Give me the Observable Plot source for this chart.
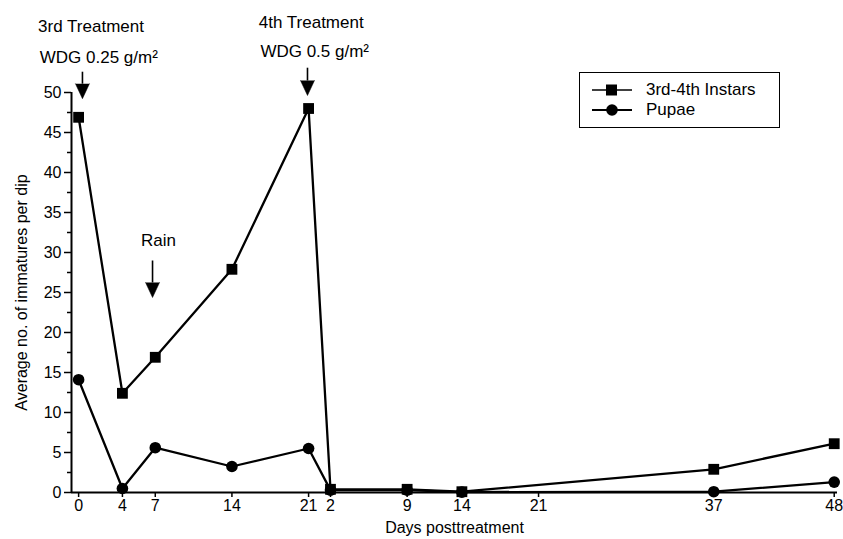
<!DOCTYPE html>
<html><head><meta charset="utf-8">
<script src="https://cdn.jsdelivr.net/npm/d3@7"></script>
<script src="https://cdn.jsdelivr.net/npm/@observablehq/plot@0.6"></script>
<style>
body{margin:0;background:#fff;font-family:"Liberation Sans",Arial,sans-serif;}
#wrap{position:relative;width:843px;height:539px;}
#legend{position:absolute;left:579px;top:72px;width:201px;height:56px;border:1.6px solid #000;background:#fff;box-sizing:border-box;}
#legend .row{position:absolute;left:12px;height:18px;display:flex;align-items:center;font-size:17px;color:#000;}
#legend svg{margin-right:14px;}
</style></head><body><div id="wrap"></div>
<script>
// composite time axis: days after 3rd treatment (0-21), then 21 + days after 4th treatment
const tickPos = [0, 4, 7, 14, 21, 23, 30, 35, 42, 58, 69];
const tickLabels = ["0", "4", "7", "14", "21", "2", "9", "14", "21", "37", "48"];
const instarT = [0, 4, 7, 14, 21, 23, 30, 35, 58, 69];
const instars = [46.9, 12.4, 16.9, 27.9, 48, 0.4, 0.4, 0.1, 2.9, 6.1];
const pupaeT = [0, 4, 7, 14, 21, 23, 30, 35, 58, 69];
const pupae = [14.1, 0.5, 5.6, 3.25, 5.5, 0.3, 0.3, 0.05, 0.1, 1.3];
const seriesNames = ["3rd-4th Instars", "Pupae"];

// annotations
const noteLabels = ["3rd Treatment", "WDG 0.25 g/m²", "4th Treatment", "WDG 0.5 g/m²", "Rain"];
const noteT = [-3.7, -3.55, 16.45, 16.6, 7.3];
const noteV = [58.3, 54.4, 58.8, 55.1, 31.5];
const arrowT = [0.35, 20.9, 6.75];
const arrowTop = [52.6, 53.1, 29];
const arrowBase = [51.1, 51.5, 26.25];

const xMin = -0.65, xMax = 69.3;
const instarRows = instarT.map((t, i) => ({t, v: instars[i], s: seriesNames[0]}));
const pupaeRows = pupaeT.map((t, i) => ({t, v: pupae[i], s: seriesNames[1]}));
const notes = noteLabels.map((label, i) => ({label, t: noteT[i], v: noteV[i]}));
const arrows = arrowT.map((t, i) => ({t, top: arrowTop[i], base: arrowBase[i]}));

const plot = Plot.plot({
  width: 843, height: 539,
  marginLeft: 71, marginRight: 6, marginTop: 92, marginBottom: 47,
  style: {fontFamily: '"Liberation Sans",Arial,sans-serif', fontSize: "16px", color: "#000", background: "#fff", overflow: "visible"},
  x: {domain: [xMin, xMax]},
  y: {domain: [0, 50]},
  marks: [
    Plot.axisY({ticks: d3.range(0, 51, 5), tickSize: 7, tickPadding: 3, strokeWidth: 1.5, fontSize: 16,
      label: "Average no. of immatures per dip", labelAnchor: "center", labelArrow: "none", labelOffset: 56}),
    Plot.axisY({ticks: d3.range(2.5, 50, 5), tickSize: 4, strokeWidth: 1.5, tickFormat: () => "", label: null}),
    Plot.axisX({ticks: tickPos, tickSize: 5, tickPadding: 2, strokeWidth: 1.5, fontSize: 16,
      tickFormat: d => tickLabels[tickPos.indexOf(d)],
      label: "Days posttreatment", labelAnchor: "center", labelArrow: "none", labelOffset: 40}),
    Plot.ruleX([xMin], {stroke: "#000", strokeWidth: 2}),
    Plot.ruleY([0], {stroke: "#000", strokeWidth: 2}),
    Plot.line(instarRows, {x: "t", y: "v", stroke: "#000", strokeWidth: 2.3}),
    Plot.line(pupaeRows, {x: "t", y: "v", stroke: "#000", strokeWidth: 2.3}),
    Plot.dot(instarRows, {x: "t", y: "v", symbol: "square", r: 6.1, fill: "#000"}),
    Plot.dot(pupaeRows, {x: "t", y: "v", symbol: "circle", r: 5.8, fill: "#000"}),
    Plot.text(notes.slice(0, 4), {x: "t", y: "v", text: "label", textAnchor: "start", fontSize: 17, fill: "#000"}),
    Plot.text(notes.slice(4), {x: "t", y: "v", text: "label", textAnchor: "middle", fontSize: 17, fill: "#000"}),
    Plot.link(arrows, {x1: "t", x2: "t", y1: "top", y2: "base", stroke: "#000", strokeWidth: 1.6}),
    Plot.vector(arrows, {x: "t", y: "base", length: 15, rotate: 180, anchor: "start", shape: "spike", r: 7, fill: "#000", fillOpacity: 1, stroke: "#000", strokeWidth: 0.5})
  ]
});
const wrap = document.getElementById("wrap");
wrap.appendChild(plot);

// legend
const legend = document.createElement("div");
legend.id = "legend";
legend.innerHTML = `
<div class="row" style="top:8px"><svg width="40" height="14"><line x1="0" y1="7" x2="40" y2="7" stroke="#000" stroke-width="1.6"/><rect x="14" y="1.5" width="11" height="11" fill="#000"/></svg><span>${seriesNames[0]}</span></div>
<div class="row" style="top:28px"><svg width="40" height="14"><line x1="0" y1="7" x2="40" y2="7" stroke="#000" stroke-width="2"/><circle cx="20" cy="7" r="5.8" fill="#000"/></svg><span>${seriesNames[1]}</span></div>`;
wrap.appendChild(legend);
</script>
</body></html>
